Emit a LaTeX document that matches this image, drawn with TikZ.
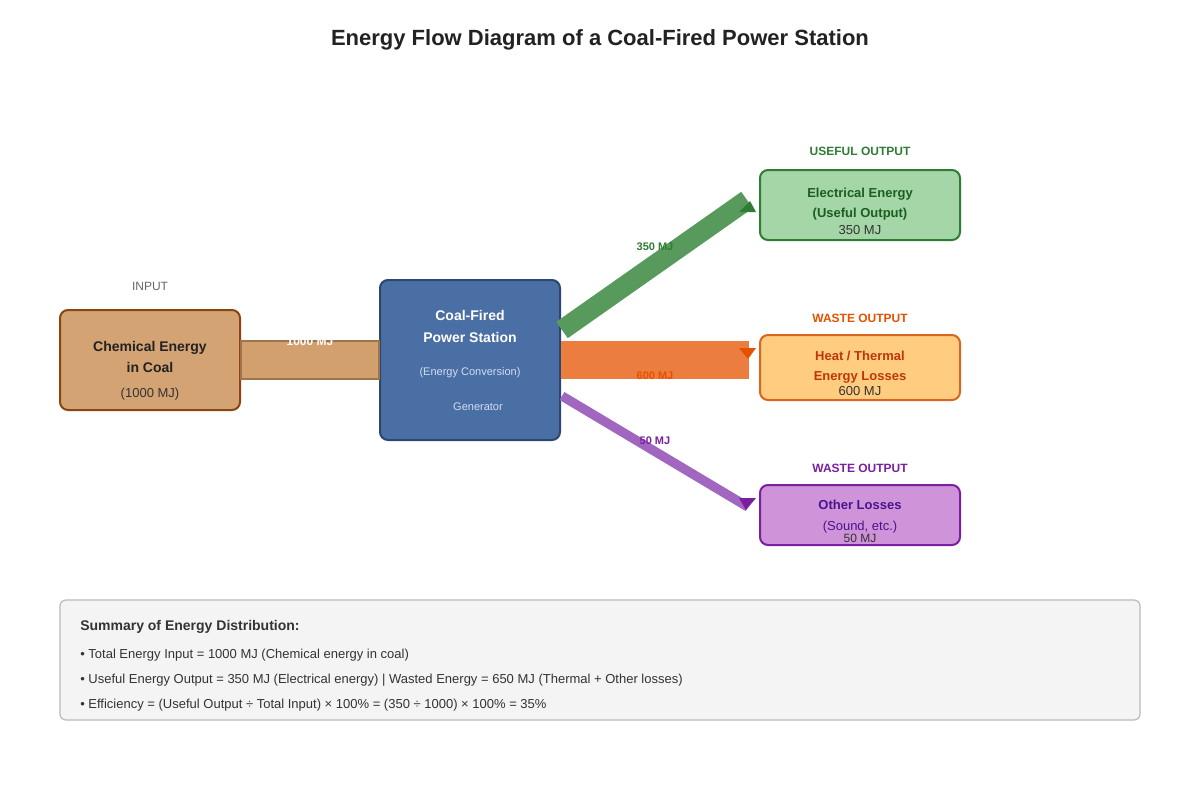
\documentclass[tikz,border=0pt]{standalone}
\usepackage{fontspec}
\setmainfont{Liberation Sans}
\usetikzlibrary{calc}
\definecolor{titlec}{HTML}{222222}
\definecolor{grayt}{HTML}{666666}
\definecolor{tanfill}{HTML}{D4A373}
\definecolor{tanline}{HTML}{8B4513}
\definecolor{bandtan}{HTML}{D2A06F}
\definecolor{bandtanline}{HTML}{A0744A}
\definecolor{bluefill}{HTML}{4A6FA5}
\definecolor{blueline}{HTML}{2C4770}
\definecolor{bluesub}{HTML}{D3DDF0}
\definecolor{gband}{HTML}{589A5C}
\definecolor{gdark}{HTML}{2E7D32}
\definecolor{gdeep}{HTML}{1B5E20}
\definecolor{gfill}{HTML}{A5D6A7}
\definecolor{oband}{HTML}{EB7D3E}
\definecolor{odark}{HTML}{E65100}
\definecolor{oline}{HTML}{D9661F}
\definecolor{ofill}{HTML}{FFCC80}
\definecolor{otext}{HTML}{BF360C}
\definecolor{pband}{HTML}{A066C0}
\definecolor{pdark}{HTML}{7B1FA2}
\definecolor{pdeep}{HTML}{4A148C}
\definecolor{pfill}{HTML}{CE93D8}
\definecolor{sumfill}{HTML}{F4F4F4}
\definecolor{sumline}{HTML}{BBBBBB}
\definecolor{bodyt}{HTML}{333333}
\tikzset{
  txt/.style={inner sep=0pt, anchor=base},
  ltxt/.style={inner sep=0pt, anchor=base west},
  boxshape/.style={rectangle, rounded corners=6pt, line width=1.5pt, inner sep=0pt},
  fT/.style={font=\fontsize{16.5}{18}\selectfont\bfseries},
  fA/.style={font=\fontsize{10.5}{12}\selectfont\bfseries},
  fAr/.style={font=\fontsize{10.5}{12}\selectfont},
  fB/.style={font=\fontsize{9.75}{11}\selectfont\bfseries},
  fBr/.style={font=\fontsize{9.75}{11}\selectfont},
  fC/.style={font=\fontsize{9}{10}\selectfont\bfseries},
  fCr/.style={font=\fontsize{9}{10}\selectfont},
  fD/.style={font=\fontsize{8.25}{9}\selectfont\bfseries},
  fDr/.style={font=\fontsize{8.25}{9}\selectfont},
}
\begin{document}
\begin{tikzpicture}[x=0.75pt,y=-0.75pt]
\useasboundingbox[fill=white] (0,0) rectangle (1200,800);

% title
\node[txt, fT, text=titlec] (title) at (600,45) {Energy Flow Diagram of a Coal-Fired Power Station};

% boxes
\node[boxshape, fill=tanfill, draw=tanline, minimum width=135pt, minimum height=75pt] (chem) at (150,360) {};
\node[boxshape, fill=bluefill, draw=blueline, minimum width=135pt, minimum height=120pt] (pow) at (470,360) {};
\node[boxshape, fill=gfill, draw=gdark, minimum width=150pt, minimum height=52.5pt] (elec) at (860,205) {};
\node[boxshape, fill=ofill, draw=oline, minimum width=150pt, minimum height=48.75pt] (heat) at (860,367.5) {};
\node[boxshape, fill=pfill, draw=pdark, minimum width=150pt, minimum height=45pt] (other) at (860,515) {};

% input band
\draw[fill=bandtan, draw=bandtanline, line width=0.9pt] ($(chem.east)+(0,-19)$) rectangle ($(pow.west)+(0,19)$);

% output bands
\coordinate (gS) at ($(pow.east)+(1,-30)$);
\coordinate (gE) at ($(elec.west)+(-12,-5)$);
\coordinate (oS) at (pow.east);
\coordinate (oE) at ($(heat.west)+(-10,-7.5)$);
\coordinate (pS) at ($(pow.east)+(1,36)$);
\coordinate (pE) at ($(other.west)+(-11,-8)$);

\draw[draw=oband, line width=28.5pt] (oS) -- (oE);
\draw[draw=gband, line width=15pt] (gS) -- (gE);
\draw[draw=pband, line width=7pt] (pS) -- (pE);

% arrow tips
\fill[gdark] ($(gE)+(-8,12)$) -- ($(gE)+(9,12)$) -- ($(gE)+(3,1)$) -- cycle;
\fill[odark] ($(oE)+(-10,-12)$) -- ($(oE)+(7,-12)$) -- ($(oE)+(-1,-1)$) -- cycle;
\fill[pdark] ($(pE)+(-9,-9)$) -- ($(pE)+(8,-9)$) -- ($(pE)+(-2,3)$) -- cycle;

% input texts
\node[txt, fCr, text=grayt] (inlbl) at (150,290) {INPUT};
\node[txt, fA, text=titlec] (chem1) at (150,351) {Chemical Energy};
\node[txt, fA, text=titlec] (chem2) at (150,372) {in Coal};
\node[txt, fBr, text=bodyt] (chem3) at (150,397) {(1000 MJ)};
\node[txt, fC, text=white] (inband) at (310,345) {1000 MJ};

% power station texts
\node[txt, fA, text=white] (pow1) at (470,320) {Coal-Fired};
\node[txt, fA, text=white] (pow3) at (470,342) {Power Station};
\node[txt, fDr, text=bluesub] (pow4) at (470,375) {(Energy Conversion)};
\node[txt, fDr, text=bluesub] (pow5) at (478,410) {Generator};

% band labels
\node[txt, fD, text=gdark] (gl) at (655,250) {350 MJ};
\node[txt, fD, text=odark] (ol) at (655,379) {600 MJ};
\node[txt, fD, text=pdark] (pl) at (655,444) {50 MJ};

% output texts
\node[txt, fC, text=gdark] (use) at (860,155) {USEFUL OUTPUT};
\node[txt, fB, text=gdeep] (e1) at (860,197) {Electrical Energy};
\node[txt, fB, text=gdeep] (e2) at (860,217) {(Useful Output)};
\node[txt, fBr, text=bodyt] (e3) at (860,234) {350 MJ};

\node[txt, fC, text=odark] (w1) at (860,322) {WASTE OUTPUT};
\node[txt, fB, text=otext] (h1) at (860,360) {Heat / Thermal};
\node[txt, fB, text=otext] (h2) at (860,380) {Energy Losses};
\node[txt, fBr, text=bodyt] (h3) at (860,395) {600 MJ};

\node[txt, fC, text=pdark] (w2) at (860,472) {WASTE OUTPUT};
\node[txt, fB, text=pdeep] (o1) at (860,509) {Other Losses};
\node[txt, fBr, text=pdeep] (o2) at (860,530) {(Sound, etc.)};
\node[txt, fCr, text=bodyt] (o3) at (860,542) {50 MJ};

% summary
\node[rectangle, rounded corners=4.5pt, fill=sumfill, draw=sumline, line width=0.9pt, minimum width=810pt, minimum height=90pt, inner sep=0pt] (sum) at (600,660) {};
\node[ltxt, fA, text=bodyt] (s0) at (80,630) {Summary of Energy Distribution:};
\node[ltxt, fBr, text=bodyt] (s1) at (80,658) {• Total Energy Input = 1000 MJ (Chemical energy in coal)};
\node[ltxt, fBr, text=bodyt] (s2) at (80,683) {• Useful Energy Output = 350 MJ (Electrical energy) | Wasted Energy = 650 MJ (Thermal + Other losses)};
\node[ltxt, fBr, text=bodyt] (s3) at (80,708) {• Efficiency = (Useful Output ÷ Total Input) × 100\% = (350 ÷ 1000) × 100\% = 35\%};
\end{tikzpicture}
\end{document}
